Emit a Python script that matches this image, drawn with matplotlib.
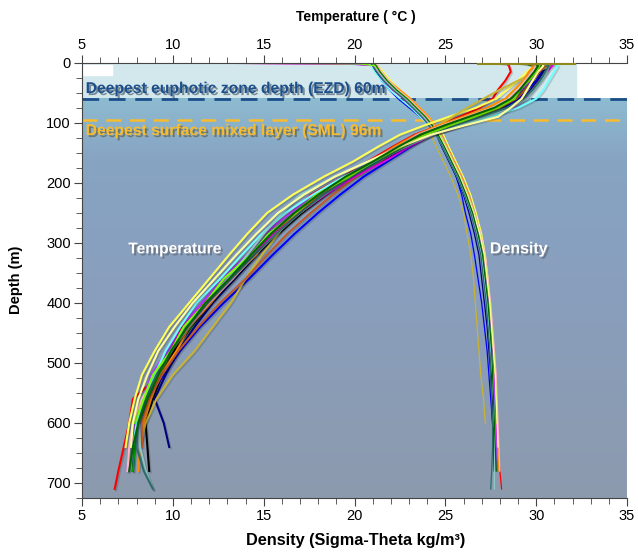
import matplotlib
matplotlib.use("Agg")
import matplotlib.pyplot as plt
import matplotlib.patheffects as pe
from matplotlib.patches import Rectangle
from matplotlib.ticker import MultipleLocator
import numpy as np

plt.rcParams['font.family'] = ['Liberation Sans', 'DejaVu Sans']

# depth grid (m) shared by all casts
depth = [0, 2, 5, 15, 30, 45, 60, 75, 90, 105, 120, 140, 165, 190, 220, 250,
         285, 320, 360, 400, 440, 480, 520, 560, 600, 640, 680, 710]

colors = ["#000000", "#ff0000", "#0000ff", "#000080", "#00a000", "#ffff55",
          "#c8b432", "#ff8c00", "#c05a28", "#ff00ff", "#a040ff", "#ffb6c1",
          "#70ffff", "#8cc8c4", "#2e6b6b", "#7cfc00", "#ffff99", "#006400"]

# temperature casts (degC), one list per cast, read down the depth grid
temp = [
    [29.7, 30.1, 30.3, 30.1, 29.8, 29.4, 29.0, 28.2, 26.9, 25.4, 24.0, 22.8, 21.4, 19.9, 18.4, 17.1, 15.8, 14.6, 13.4, 12.1, 11.0, 10.1, 9.4, 8.9, 8.5, 8.6, 8.7],
    [28.0, 28.4, 28.5, 28.6, 28.3, 27.9, 27.6, 26.9, 25.8, 24.6, 23.3, 22.1, 20.7, 19.4, 17.6, 16.5, 15.0, 14.1, 12.7, 11.7, 10.5, 9.9, 9.3, 7.8, 7.6, 7.3, 7.0, 6.8],
    [29.8, 30.2, 30.4, 30.3, 30.0, 29.5, 29.0, 28.3, 27.0, 25.6, 24.2, 23.1, 21.8, 20.5, 19.2, 18.0, 16.7, 15.5, 14.2, 12.8, 11.5, 10.4, 9.5, 8.6, 8.1, 7.9, 7.8],
    [30.2, 30.5, 30.6, 30.4, 30.1, 29.7, 29.3, 28.6, 27.2, 25.5, 24.0, 22.7, 21.3, 19.8, 18.3, 17.0, 15.7, 14.6, 13.4, 12.2, 11.2, 10.3, 9.6, 9.0, 9.5, 9.8],
    [29.0, 29.5, 29.8, 29.9, 29.6, 29.3, 28.9, 28.0, 26.8, 25.3, 23.8, 22.5, 21.3, 19.5, 18.3, 16.8, 15.7, 14.3, 13.3, 11.8, 11.0, 9.9, 9.3, 8.5, 8.0, 7.9, 7.8],
    [29.5, 29.7, 29.9, 29.5, 29.0, 28.4, 27.8, 26.7, 25.2, 23.8, 22.5, 21.3, 19.9, 18.3, 16.6, 15.2, 14.1, 13.1, 12.0, 10.9, 9.8, 9.0, 8.3, 7.9, 7.6, 7.4],
    [30.8, 31.0, 30.8, 30.0, 29.0, 28.0, 27.1, 26.2, 25.4, 24.6, 23.6, 22.3, 20.8, 19.5, 17.9, 16.7, 15.8, 14.9, 14.0, 13.2, 12.2, 11.2, 10.0, 9.1, 8.5, 8.2],
    [29.2, 29.6, 29.9, 29.6, 29.3, 28.8, 28.3, 27.3, 26.0, 24.6, 23.4, 22.2, 20.9, 19.6, 18.0, 16.9, 15.4, 14.6, 13.2, 12.1, 10.9, 10.2, 9.3, 8.8, 8.4, 8.2, 8.1],
    [30.0, 30.3, 30.5, 30.2, 29.8, 29.4, 28.9, 28.0, 26.6, 25.1, 23.7, 22.6, 21.4, 20.1, 18.8, 17.6, 16.3, 15.2, 14.0, 12.6, 11.4, 10.3, 9.4, 8.7, 8.3, 8.3],
    [30.5, 30.8, 30.9, 30.6, 30.2, 29.8, 29.4, 28.7, 27.4, 25.8, 24.3, 23.0, 21.6, 20.0, 18.4, 17.0, 15.6, 14.3, 13.0, 11.6, 10.6, 9.7, 9.0, 8.4, 8.0, 7.7],
    [29.6, 29.9, 30.1, 30.0, 29.7, 29.2, 28.7, 27.8, 26.4, 24.9, 23.5, 22.4, 20.8, 19.5, 17.7, 16.5, 15.0, 14.1, 12.7, 11.6, 10.4, 9.7, 8.8, 8.4, 7.9, 7.6, 7.5],
    [29.3, 29.8, 30.0, 29.8, 29.4, 29.0, 28.5, 27.6, 26.2, 24.8, 23.5, 22.4, 21.1, 19.7, 18.3, 17.0, 15.7, 14.5, 13.3, 12.0, 10.9, 9.9, 9.1, 8.3, 7.8, 7.6, 7.5],
    [30.6, 31.0, 31.2, 31.0, 30.7, 30.4, 30.0, 29.0, 27.5, 25.8, 24.2, 22.8, 21.2, 19.4, 17.7, 16.2, 14.9, 13.8, 12.6, 11.3, 10.4, 9.6, 9.0, 8.4, 8.0, 7.8],
    [29.9, 30.4, 30.7, 30.6, 30.3, 29.9, 29.5, 28.6, 27.2, 25.7, 24.3, 22.8, 20.8, 18.9, 17.0, 16.0, 15.0, 14.1, 13.0, 11.8, 10.8, 9.9, 9.2, 8.5, 8.1, 8.2, 8.5, 8.9],
    [30.1, 30.5, 30.7, 30.5, 30.2, 29.8, 29.3, 28.4, 27.0, 25.4, 24.0, 22.7, 21.3, 19.8, 18.3, 17.0, 15.7, 14.5, 13.2, 11.9, 10.8, 9.9, 9.1, 8.5, 8.1, 8.0, 8.4, 8.9],
    [29.4, 29.9, 30.2, 30.0, 29.6, 29.1, 28.8, 27.9, 26.6, 25.2, 23.9, 22.6, 21.0, 19.7, 17.9, 16.8, 15.3, 14.3, 12.8, 11.8, 10.6, 9.9, 8.9, 8.4, 7.9],
    [30.0, 30.3, 30.4, 30.1, 29.8, 29.5, 29.2, 28.6, 27.9, 26.0, 24.2, 22.5, 20.7, 18.9, 17.2, 15.8, 14.6, 13.5, 12.3, 11.1, 10.1, 9.2, 8.6, 8.1, 7.8, 7.7],
    [29.8, 30.0, 30.1, 29.9, 29.5, 29.1, 28.6, 27.7, 26.3, 24.9, 23.6, 22.4, 21.0, 19.5, 18.0, 16.7, 15.4, 14.3, 13.1, 11.8, 10.8, 9.9, 9.2, 8.6, 8.1, 7.8, 7.6],
]

# density casts (sigma-theta kg/m3)
dens = [
    [21.0, 21.1, 21.1, 21.3, 21.7, 22.2, 22.8, 23.3, 23.8, 24.2, 24.55, 24.9, 25.3, 25.7, 26.1, 26.4, 26.75, 27.0, 27.15, 27.3, 27.4, 27.5, 27.55, 27.6, 27.65, 27.65, 27.7],
    [5.5, 19.8, 21.2, 21.4, 21.8, 22.4, 23.0, 23.5, 24.0, 24.4, 24.7, 25.0, 25.4, 25.8, 26.2, 26.5, 26.85, 27.1, 27.25, 27.4, 27.5, 27.6, 27.7, 27.8, 27.85, 27.9, 28.0, 28.1],
    [21.0, 21.0, 21.0, 21.2, 21.5, 21.9, 22.4, 23.0, 23.6, 24.2, 24.7, 25.0, 25.3, 25.6, 25.9, 26.1, 26.4, 26.6, 26.8, 27.0, 27.15, 27.3, 27.4, 27.5, 27.6, 27.65, 27.7],
    [20.8, 20.9, 21.0, 21.2, 21.6, 22.1, 22.7, 23.2, 23.7, 24.1, 24.5, 24.8, 25.2, 25.6, 26.0, 26.3, 26.6, 26.85, 27.0, 27.15, 27.3, 27.4, 27.5, 27.55, 27.6, 27.65],
    [21.1, 21.1, 21.2, 21.4, 21.8, 22.3, 22.9, 23.4, 23.9, 24.3, 24.7, 25.0, 25.4, 25.8, 26.2, 26.5, 26.8, 27.05, 27.2, 27.35, 27.45, 27.55, 27.65, 27.7, 27.75, 27.8, 27.85],
    [21.2, 21.2, 21.3, 21.6, 22.0, 22.5, 23.1, 23.6, 24.1, 24.5, 24.9, 25.2, 25.6, 26.0, 26.4, 26.7, 27.0, 27.2, 27.35, 27.45, 27.55, 27.65, 27.7, 27.75, 27.8, 27.85],
    [21.0, 21.1, 21.2, 21.5, 21.9, 22.4, 23.0, 23.4, 23.8, 24.0, 24.2, 24.5, 24.9, 25.3, 25.7, 26.0, 26.2, 26.4, 26.55, 26.65, 26.75, 26.85, 26.95, 27.1, 27.2],
    [21.0, 21.1, 21.2, 21.4, 21.9, 22.5, 23.1, 23.6, 24.1, 24.5, 24.8, 25.1, 25.5, 25.9, 26.3, 26.6, 26.9, 27.15, 27.3, 27.45, 27.55, 27.65, 27.75, 27.8, 27.85, 27.9, 27.95],
    [20.9, 21.0, 21.1, 21.3, 21.7, 22.2, 22.8, 23.3, 23.8, 24.2, 24.6, 24.9, 25.3, 25.7, 26.1, 26.4, 26.75, 27.0, 27.15, 27.3, 27.4, 27.5, 27.6, 27.65, 27.7, 27.75],
    [7.0, 20.0, 21.0, 21.3, 21.6, 22.1, 22.7, 23.2, 23.7, 24.2, 24.6, 24.95, 25.35, 25.75, 26.15, 26.5, 26.85, 27.1, 27.25, 27.4, 27.5, 27.6, 27.7, 27.75, 27.8, 27.85],
    [5.2, 19.5, 21.1, 21.3, 21.7, 22.2, 22.8, 23.3, 23.8, 24.3, 24.6, 24.9, 25.3, 25.7, 26.1, 26.45, 26.8, 27.05, 27.2, 27.35, 27.45, 27.55, 27.65, 27.7, 27.75, 27.8, 27.85],
    [21.1, 21.2, 21.3, 21.5, 21.9, 22.4, 23.0, 23.5, 24.0, 24.4, 24.75, 25.05, 25.45, 25.85, 26.25, 26.6, 26.95, 27.2, 27.35, 27.5, 27.6, 27.7, 27.8, 27.85, 27.9, 27.95, 28.0],
    [20.7, 20.8, 20.9, 21.1, 21.5, 21.9, 22.5, 23.1, 23.6, 24.1, 24.5, 24.85, 25.25, 25.65, 26.05, 26.4, 26.75, 27.0, 27.15, 27.3, 27.4, 27.5, 27.6, 27.65, 27.7, 27.75],
    [21.0, 21.0, 21.1, 21.3, 21.7, 22.2, 22.8, 23.3, 23.8, 24.2, 24.6, 24.9, 25.3, 25.7, 26.1, 26.45, 26.8, 27.05, 27.2, 27.35, 27.45, 27.55, 27.6, 27.65, 27.7, 27.7, 27.7, 27.7],
    [20.9, 21.0, 21.0, 21.2, 21.6, 22.1, 22.7, 23.2, 23.7, 24.1, 24.5, 24.85, 25.25, 25.65, 26.05, 26.4, 26.7, 26.95, 27.1, 27.25, 27.35, 27.45, 27.5, 27.55, 27.6, 27.6, 27.55, 27.5],
    [12.0, 20.3, 21.1, 21.4, 21.8, 22.3, 22.9, 23.4, 23.9, 24.35, 24.7, 25.0, 25.4, 25.8, 26.2, 26.55, 26.9, 27.15, 27.3, 27.45, 27.55, 27.65, 27.75, 27.8, 27.85],
    [21.1, 21.1, 21.2, 21.4, 21.8, 22.3, 22.9, 23.4, 23.9, 24.3, 24.65, 25.0, 25.4, 25.8, 26.2, 26.55, 26.9, 27.15, 27.3, 27.45, 27.55, 27.65, 27.75, 27.8, 27.85, 27.9],
    [21.0, 21.1, 21.2, 21.4, 21.8, 22.3, 22.9, 23.4, 23.9, 24.3, 24.6, 24.95, 25.35, 25.75, 26.15, 26.5, 26.8, 27.05, 27.2, 27.35, 27.45, 27.55, 27.6, 27.65, 27.7, 27.75, 27.8],
]

# olive surface record sitting on the 0 m line
surf_temp = [26.8, 32.1]
surf_depth = [0.6, 0.6]

ezd = 60
sml = 96
ezd_right = 32.2   # right edge of the euphotic shading

fig = plt.figure(figsize=(6.38, 5.54), dpi=100)
ax = fig.add_axes([82/638, 1 - 498/554, 545/638, (498 - 62.7)/554])
ax.set_facecolor("white")
ax.set_xlim(5, 35)
ax.set_ylim(725, 0)

# background: pale euphotic box, then blue-grey gradient below
ax.add_patch(Rectangle((5, 0), ezd_right - 5, ezd, color="#d3e8ed", zorder=0))
ax.add_patch(Rectangle((5, 3), 1.65, 17, color="white", zorder=0.5))
stops = np.array([[0x8d, 0xbb, 0xd0], [0x87, 0xa4, 0xc3],
                  [0x89, 0x9f, 0xbe], [0x8c, 0x9a, 0xad]]) / 255.0
pos = np.array([0.0, 0.15, 0.45, 1.0])
t = np.linspace(0, 1, 200)
grad = np.stack([np.interp(t, pos, stops[:, k]) for k in range(3)], axis=1)
ax.imshow(grad[:, None, :], extent=(5, 35, 725, ezd), aspect="auto",
          origin="upper", zorder=0.2)

ax.axhline(ezd, color="#1c4e8a", lw=2.0, dashes=(6, 3.5), zorder=1)
ax.axhline(sml, color="#f9bc2f", lw=1.8, dashes=(6, 3.5), zorder=1)

shadow = [pe.SimpleLineShadow(offset=(1, -1), alpha=0.15), pe.Normal()]
for c, vals in zip(colors, dens):
    ax.plot(vals, depth[:len(vals)], color=c, lw=0.9, zorder=2)
for c, vals in zip(colors, temp):
    ax.plot(vals, depth[:len(vals)], color=c, lw=1.5, zorder=3,
            path_effects=shadow)
ax.plot(surf_temp, surf_depth, color="#8f8a1e", lw=2.2, zorder=3)

tshadow = [pe.withSimplePatchShadow(offset=(1.5, -1.5), alpha=0.45)]
ax.text(5.2, 43, "Deepest euphotic zone depth (EZD) 60m", color="#1d4f8c",
        fontsize=11.3, fontweight="bold", va="center", ha="left", zorder=4,
        path_effects=tshadow)
ax.text(5.2, 113, "Deepest surface mixed layer (SML) 96m", color="#f8bb2c",
        fontsize=11.3, fontweight="bold", va="center", ha="left", zorder=4,
        path_effects=tshadow)
ax.text(10.1, 310, "Temperature", color="white", fontsize=11.2,
        fontweight="bold", ha="center", va="center", zorder=4,
        path_effects=tshadow)
ax.text(29.05, 310, "Density", color="white", fontsize=11.5,
        fontweight="bold", ha="center", va="center", zorder=4,
        path_effects=tshadow)

ax.spines["right"].set_visible(False)
for s in ["top", "bottom", "left"]:
    ax.spines[s].set_color("#444444")
ax.xaxis.set_major_locator(MultipleLocator(5))
ax.xaxis.set_minor_locator(MultipleLocator(1))
ax.yaxis.set_major_locator(MultipleLocator(100))
ax.yaxis.set_minor_locator(MultipleLocator(25))
ax.tick_params(which="both", direction="out", top=True, labeltop=True,
               color="#444444")
ax.tick_params(which="major", length=6, labelsize=10.5, pad=2)
ax.tick_params(which="minor", length=4)

fig.text(356/638, 1 - 17/554, "Temperature ( °C )", ha="center", va="center",
         fontsize=10, fontweight="bold")
fig.text(356/638, 1 - 541/554, "Density (Sigma-Theta kg/m³)", ha="center",
         va="center", fontsize=11.7, fontweight="bold")
fig.text(16/638, 1 - 280/554, "Depth (m)", ha="center", va="center",
         rotation=90, fontsize=10.5, fontweight="bold")

fig.savefig("out.png", dpi=100)
